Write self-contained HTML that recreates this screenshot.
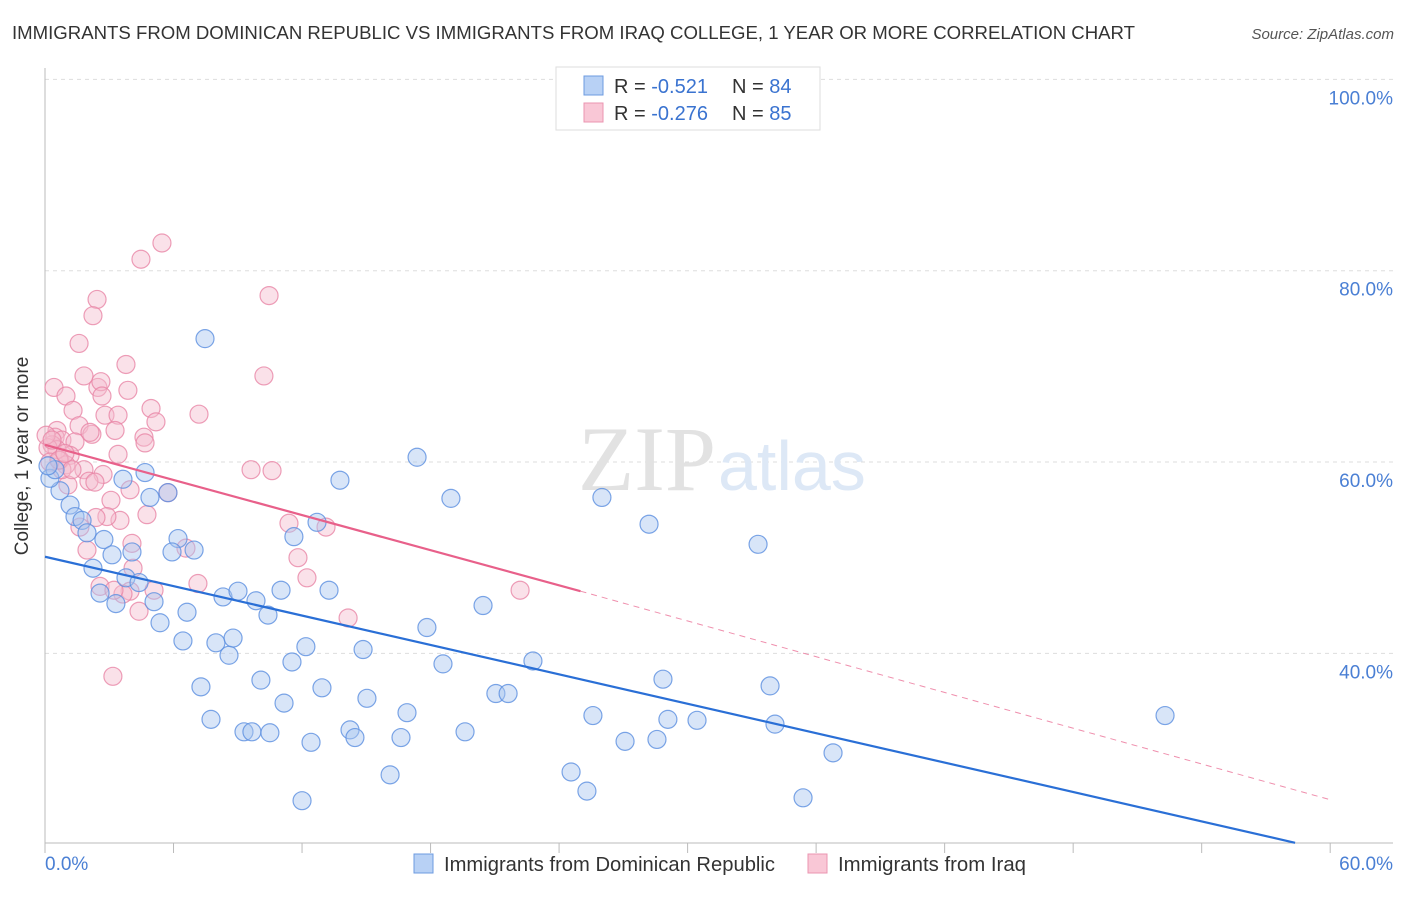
<!DOCTYPE html>
<html><head><meta charset="utf-8"><style>
body{margin:0;background:#fff;font-family:"Liberation Sans",sans-serif}
svg text{font-family:"Liberation Sans",sans-serif}
</style></head><body>
<svg width="1406" height="892">
<text x="12" y="39" font-size="18" fill="#333" textLength="1123" lengthAdjust="spacingAndGlyphs">IMMIGRANTS FROM DOMINICAN REPUBLIC VS IMMIGRANTS FROM IRAQ COLLEGE, 1 YEAR OR MORE CORRELATION CHART</text>
<text x="1394" y="39" font-size="15" fill="#555" font-style="italic" text-anchor="end">Source: ZipAtlas.com</text>
<g id="grid"></g>
<text x="716" y="490" font-size="92" fill="#e2e2e2" text-anchor="end" style="font-family:'Liberation Serif',serif">ZIP</text>
<text x="718" y="490" font-size="70" fill="#dde8f6">atlas</text>
<line x1="45" y1="68" x2="45" y2="843" stroke="#bbb"/>
<line x1="45" y1="843" x2="1393" y2="843" stroke="#bbb"/>
<g id="xticks"></g>
<g id="points"></g>
<g id="lines"></g>
<text x="28" y="456" font-size="19" fill="#333" text-anchor="middle" transform="rotate(-90 28 456)">College, 1 year or more</text>
<text x="45" y="870" font-size="19" fill="#4a7fd4">0.0%</text>
<text x="1393" y="870" font-size="19" fill="#4a7fd4" text-anchor="end">60.0%</text>
<g>
<rect x="556" y="67" width="264" height="63" fill="#fff" stroke="#ddd"/>
<rect x="584" y="76" width="19" height="19" fill="#b8d1f5" stroke="#6d9be0"/>
<rect x="584" y="103" width="19" height="19" fill="#f9c7d6" stroke="#eb94b0"/>
<text x="614" y="93" font-size="20" fill="#333">R = <tspan fill="#3a73d0">-0.521</tspan></text>
<text x="732" y="93" font-size="20" fill="#333">N = <tspan fill="#3a73d0">84</tspan></text>
<text x="614" y="120" font-size="20" fill="#333">R = <tspan fill="#3a73d0">-0.276</tspan></text>
<text x="732" y="120" font-size="20" fill="#333">N = <tspan fill="#3a73d0">85</tspan></text>
</g>
<g>
<rect x="414" y="854" width="19" height="19" fill="#b8d1f5" stroke="#6d9be0"/>
<text x="444" y="871" font-size="20" fill="#333" textLength="331" lengthAdjust="spacingAndGlyphs">Immigrants from Dominican Republic</text>
</g>
<g>
<rect x="808" y="854" width="19" height="19" fill="#f9c7d6" stroke="#eb94b0"/>
<text x="838" y="871" font-size="20" fill="#333" textLength="188" lengthAdjust="spacingAndGlyphs">Immigrants from Iraq</text>
</g>
</svg>
<script>
const yTicks=[40,60,80,100];
const yTickLabels=["40.0%","60.0%","80.0%","100.0%"];
const xTicks=[0,6,12,18,24,30,36,42,48,54,60];
const blueX=[7.47,3.64,4.67,4.90,5.74,0.70,1.17,1.40,1.73,1.96,2.75,4.06,3.13,6.21,6.96,5.93,2.24,3.78,4.39,2.57,3.31,5.09,6.63,5.37,6.44,7.98,8.59,8.78,8.31,9.01,9.85,10.41,11.02,11.62,12.70,13.26,13.77,17.37,18.95,26.0,28.2,33.29,20.45,17.83,12.18,11.53,14.85,18.58,22.78,10.08,7.28,12.93,11.16,15.03,16.90,21.05,21.62,28.85,33.85,25.58,29.08,30.44,34.08,52.29,7.75,9.29,9.66,10.50,12.42,14.24,14.47,16.62,19.61,27.08,28.57,36.79,16.11,24.56,25.30,12.0,35.39,0.23,0.47,0.14];
const blueY=[72.9,58.2,58.9,56.3,56.8,57.0,55.5,54.3,53.9,52.6,51.9,50.6,50.3,52.0,50.8,50.6,48.9,47.9,47.4,46.3,45.2,45.4,44.3,43.2,41.3,41.1,39.8,41.6,45.9,46.5,45.5,44.0,46.6,52.2,53.7,46.6,58.1,60.5,56.2,56.3,53.5,51.4,45.0,42.7,40.7,39.1,40.4,38.9,39.2,37.2,36.5,36.4,34.8,35.3,33.8,35.8,35.8,37.3,36.6,33.5,33.1,33.0,32.6,33.5,33.1,31.8,31.8,31.7,30.7,32.0,31.2,31.2,31.8,30.8,31.0,29.6,27.3,27.6,25.6,24.6,24.9,58.3,59.2,59.6];
const pinkX=[5.46,4.48,2.43,2.24,1.59,10.46,3.78,10.22,0.42,1.82,2.47,3.87,2.61,0.98,1.31,2.66,4.95,7.19,5.18,2.80,3.41,1.59,2.19,3.27,4.62,2.10,0.56,0.47,0.79,0.33,1.40,3.41,4.67,1.17,0.70,0.98,1.82,9.62,10.60,2.71,2.05,2.33,1.07,3.97,3.08,4.76,3.50,2.89,2.38,5.74,11.39,13.12,1.63,4.06,6.58,11.81,1.96,4.11,12.23,7.14,2.57,3.97,5.09,3.64,3.22,4.39,14.15,22.18,3.17,0.79,0.56,0.14,0.23,0.65,1.26,0.05,0.33,0.93];
const pinkY=[82.9,81.2,77.0,75.3,72.4,77.4,70.2,69.0,67.8,69.0,67.8,67.5,68.4,66.9,65.4,66.9,65.6,65.0,64.2,64.9,64.9,63.8,62.9,63.3,62.6,63.1,63.3,62.6,62.3,61.8,62.1,60.8,62.0,60.7,60.2,59.7,59.2,59.2,59.1,58.7,58.0,57.9,57.6,57.1,56.0,54.5,53.9,54.3,54.2,56.8,53.6,53.2,53.2,51.5,51.0,50.0,50.8,48.9,47.9,47.3,47.0,46.5,46.6,46.2,46.6,44.4,43.7,46.6,37.6,59.2,61.3,61.5,60.0,60.2,59.2,62.8,62.3,60.9];
const blueTrend=[50.1,20.2,58.36];
const pinkTrend=[61.8,46.5,25,24.7];
const NS='http://www.w3.org/2000/svg';
const X=v=>45+v*21.42, Y=v=>1036-v*9.566;
function mk(t,a,p){const e=document.createElementNS(NS,t);for(const k in a)e.setAttribute(k,a[k]);p.appendChild(e);return e;}
const grid=document.getElementById('grid');
yTicks.forEach((t,i)=>{
 const l=mk('line',{x1:45,x2:1393,y1:Y(t),y2:Y(t),stroke:'#ddd','stroke-dasharray':'4,4'},grid);
 
 
 const tx=mk('text',{x:1393,y:Y(t)+25,'font-size':19,fill:'#4a7fd4','text-anchor':'end'},grid);
 tx.textContent=yTickLabels[i];
 
 
});
const xt=document.getElementById('xticks');
xTicks.forEach(t=>{
 const l=mk('line',{x1:X(t),x2:X(t),y1:843,y2:853,stroke:'#bbb'},xt);
 
 
});
const pts=document.getElementById('points');
function dots(xs,ys,fill,stroke,name){xs.forEach((x,i)=>{
 const c=mk('circle',{cx:X(x),cy:Y(ys[i]),r:9,fill:fill,'fill-opacity':0.45,stroke:stroke,'stroke-width':1.2,'stroke-opacity':0.8},pts);
 
 
});}
dots(pinkX,pinkY,'#f5bccf','#e886a6','iraq-point');
dots(blueX,blueY,'#a9c6f0','#5b8fe0','dominican-point');
const ln=document.getElementById('lines');
const b=mk('line',{x1:X(0),y1:Y(blueTrend[0]),x2:X(blueTrend[2]),y2:Y(blueTrend[1]),stroke:'#2a6fd6','stroke-width':2.2},ln);


const p1=mk('line',{x1:X(0),y1:Y(pinkTrend[0]),x2:X(pinkTrend[2]),y2:Y(pinkTrend[1]),stroke:'#e8608a','stroke-width':2.2},ln);


const p2=mk('line',{x1:X(pinkTrend[2]),y1:Y(pinkTrend[1]),x2:X(60),y2:Y(pinkTrend[3]),stroke:'#e8608a','stroke-width':1,'stroke-dasharray':'6,5','stroke-opacity':0.7},ln);


</script>
</body></html>
